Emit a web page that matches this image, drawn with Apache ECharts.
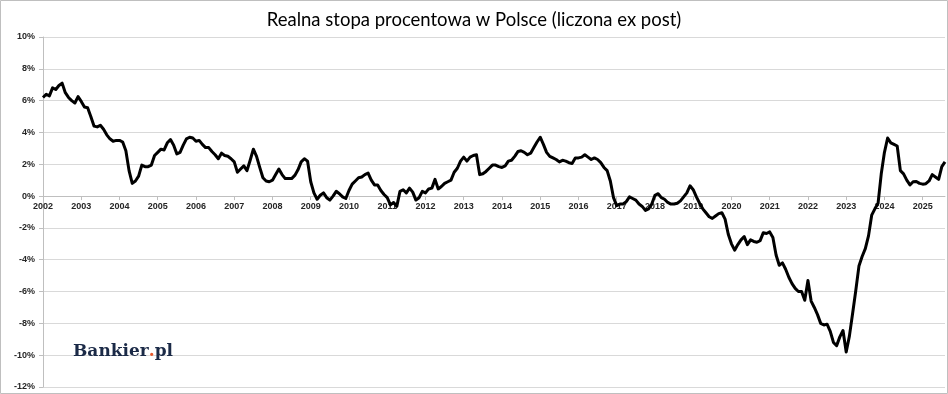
<!DOCTYPE html>
<html>
<head>
<meta charset="utf-8">
<script src="https://cdn.jsdelivr.net/npm/echarts@6/dist/echarts.min.js"></script>
<style>
html,body{margin:0;padding:0;background:#fff;}
#chart{width:948px;height:394px;}
</style>
</head>
<body>
<div id="chart"></div>
<script>
// Real interest rate in Poland (ex post), monthly, %
const years = [2002,2003,2004,2005,2006,2007,2008,2009,2010,2011,2012,2013,2014,2015,2016,2017,2018,2019,2020,2021,2022,2023,2024,2025];
const r2002 = [6.2, 6.4, 6.3, 6.8, 6.7, 6.95, 7.1, 6.5, 6.2, 6.0, 5.85, 6.25];
const r2003 = [5.95, 5.6, 5.55, 5.0, 4.4, 4.35, 4.45, 4.2, 3.85, 3.6, 3.45, 3.5];
const r2004 = [3.5, 3.4, 2.85, 1.6, 0.8, 0.95, 1.25, 1.95, 1.85, 1.85, 1.95, 2.55];
const r2005 = [2.75, 2.95, 2.9, 3.35, 3.55, 3.2, 2.65, 2.75, 3.2, 3.6, 3.7, 3.65];
const r2006 = [3.45, 3.5, 3.25, 3.05, 3.05, 2.8, 2.6, 2.35, 2.7, 2.55, 2.5, 2.35];
const r2007 = [2.15, 1.5, 1.7, 1.9, 1.6, 2.25, 2.95, 2.5, 1.8, 1.15, 0.95, 0.9];
const r2008 = [1.0, 1.35, 1.7, 1.35, 1.1, 1.1, 1.1, 1.3, 1.65, 2.15, 2.35, 2.2];
const r2009 = [0.9, 0.2, -0.2, 0.05, 0.2, -0.1, -0.25, 0.0, 0.3, 0.15, -0.05, -0.15];
const r2010 = [0.35, 0.75, 0.95, 1.15, 1.2, 1.35, 1.45, 1.0, 0.7, 0.7, 0.35, 0.1];
const r2011 = [-0.1, -0.55, -0.4, -0.65, 0.3, 0.4, 0.2, 0.5, 0.25, -0.25, -0.1, 0.3];
const r2012 = [0.2, 0.45, 0.5, 1.05, 0.45, 0.6, 0.8, 0.9, 1.0, 1.5, 1.75, 2.2];
const r2013 = [2.45, 2.2, 2.45, 2.55, 2.6, 1.35, 1.4, 1.55, 1.75, 1.95, 1.95, 1.85];
const r2014 = [1.8, 1.9, 2.2, 2.25, 2.5, 2.8, 2.85, 2.75, 2.6, 2.7, 3.05, 3.4];
const r2015 = [3.7, 3.25, 2.75, 2.5, 2.4, 2.3, 2.15, 2.25, 2.2, 2.1, 2.05, 2.4];
const r2016 = [2.4, 2.45, 2.6, 2.45, 2.3, 2.4, 2.3, 2.1, 1.8, 1.6, 0.95, -0.1];
const r2017 = [-0.6, -0.5, -0.5, -0.35, -0.05, -0.15, -0.25, -0.5, -0.65, -0.9, -0.8, -0.5];
const r2018 = [0.05, 0.15, -0.1, -0.2, -0.4, -0.5, -0.5, -0.45, -0.3, -0.05, 0.2, 0.65];
const r2019 = [0.4, -0.05, -0.45, -0.8, -1.05, -1.3, -1.4, -1.25, -1.1, -1.05, -1.45, -2.4];
const r2020 = [-3.0, -3.4, -3.05, -2.75, -2.55, -3.05, -2.75, -2.85, -2.9, -2.8, -2.3, -2.35];
const r2021 = [-2.25, -2.6, -3.7, -4.35, -4.2, -4.6, -5.1, -5.5, -5.8, -6.0, -6.0, -6.55];
const r2022 = [-5.3, -6.6, -7.0, -7.45, -8.0, -8.1, -8.05, -8.5, -9.2, -9.4, -8.85, -8.45];
const r2023 = [-9.8, -8.8, -7.4, -5.95, -4.4, -3.8, -3.3, -2.5, -1.2, -0.8, -0.45, 1.4];
const r2024 = [2.75, 3.65, 3.35, 3.25, 3.15, 1.6, 1.4, 1.0, 0.7, 0.9, 0.92, 0.8];
const r2025 = [0.75, 0.78, 0.95, 1.35, 1.2, 1.05, 1.85, 2.15];
const yTicks = {min: -12, max: 10, step: 2};

const perYear = [r2002,r2003,r2004,r2005,r2006,r2007,r2008,r2009,r2010,r2011,r2012,r2013,r2014,r2015,r2016,r2017,r2018,r2019,r2020,r2021,r2022,r2023,r2024,r2025];
const categories = [];
const values = [];
perYear.forEach((arr, i) => {
  arr.forEach((v, m) => {
    categories.push(years[i] + '-' + String(m + 1).padStart(2, '0'));
    values.push(v);
  });
});
const isJanIdx = (idx) => idx % 12 === 0;

// layout
const W = 948, H = 394;
const gridTop = 37, gridBottom = 7;
const gridH = H - gridTop - gridBottom;
// move the category axis (line, ticks, labels) up to the 0% level
const zeroOffset = -gridH * (0 - yTicks.min) / (yTicks.max - yTicks.min);

const chart = echarts.init(document.getElementById('chart'), null, {renderer: 'canvas'});
chart.setOption({
  animation: false,
  backgroundColor: '#ffffff',
  title: {
    text: 'Realna stopa procentowa w Polsce (liczona ex post)',
    left: 'center',
    top: 6,
    textStyle: {fontFamily: 'Lato', fontSize: 18.5, fontWeight: 'normal', color: '#000000'}
  },
  grid: {left: 43, right: 3, top: gridTop, bottom: gridBottom, containLabel: false, outerBoundsMode: 'none'},
  xAxis: {
    type: 'category',
    data: categories,
    boundaryGap: false,
    position: 'bottom',
    offset: zeroOffset,
    axisLine: {onZero: false, lineStyle: {color: '#bfbfbf', width: 1}},
    axisTick: {show: true, interval: isJanIdx, length: 4, lineStyle: {color: '#bfbfbf'}},
    axisLabel: {
      show: true,
      interval: 0,
      hideOverlap: false,
      formatter: (v) => (String(v).slice(5) === '01' ? String(v).slice(0, 4) : ''),
      fontFamily: 'Liberation Sans', fontSize: 9, fontWeight: 'bold', color: '#262626', margin: 6
    },
    splitLine: {show: false}
  },
  yAxis: {
    type: 'value',
    min: yTicks.min, max: yTicks.max, interval: yTicks.step,
    axisLine: {show: true, lineStyle: {color: '#bfbfbf'}},
    axisTick: {show: true, length: 4, lineStyle: {color: '#bfbfbf'}},
    axisLabel: {formatter: '{value}%', fontFamily: 'Liberation Sans', fontSize: 9, fontWeight: 'bold', color: '#262626', margin: 8},
    splitLine: {lineStyle: {color: '#d9d9d9', width: 1}}
  },
  series: [{
    type: 'line',
    data: values,
    showSymbol: false,
    symbol: 'none',
    lineStyle: {color: '#000000', width: 3, join: 'round'},
    z: 5
  }],
  graphic: [
    {type: 'rect', shape: {x: 0.5, y: 0.5, width: W - 1, height: H - 1}, style: {fill: 'none', stroke: '#bfbfbf', lineWidth: 1}, z: 100},
    {
      type: 'text', left: 73, top: 343, z: 100,
      style: {
        text: '{b|Bankier}{d|.}{b|pl}',
        rich: {
          b: {fontFamily: 'DejaVu Serif', fontWeight: 'bold', fontSize: 17, fill: '#1b2a47'},
          d: {fontFamily: 'DejaVu Serif', fontWeight: 'bold', fontSize: 17, fill: '#e8582c'}
        }
      }
    }
  ]
});
</script>
</body>
</html>
